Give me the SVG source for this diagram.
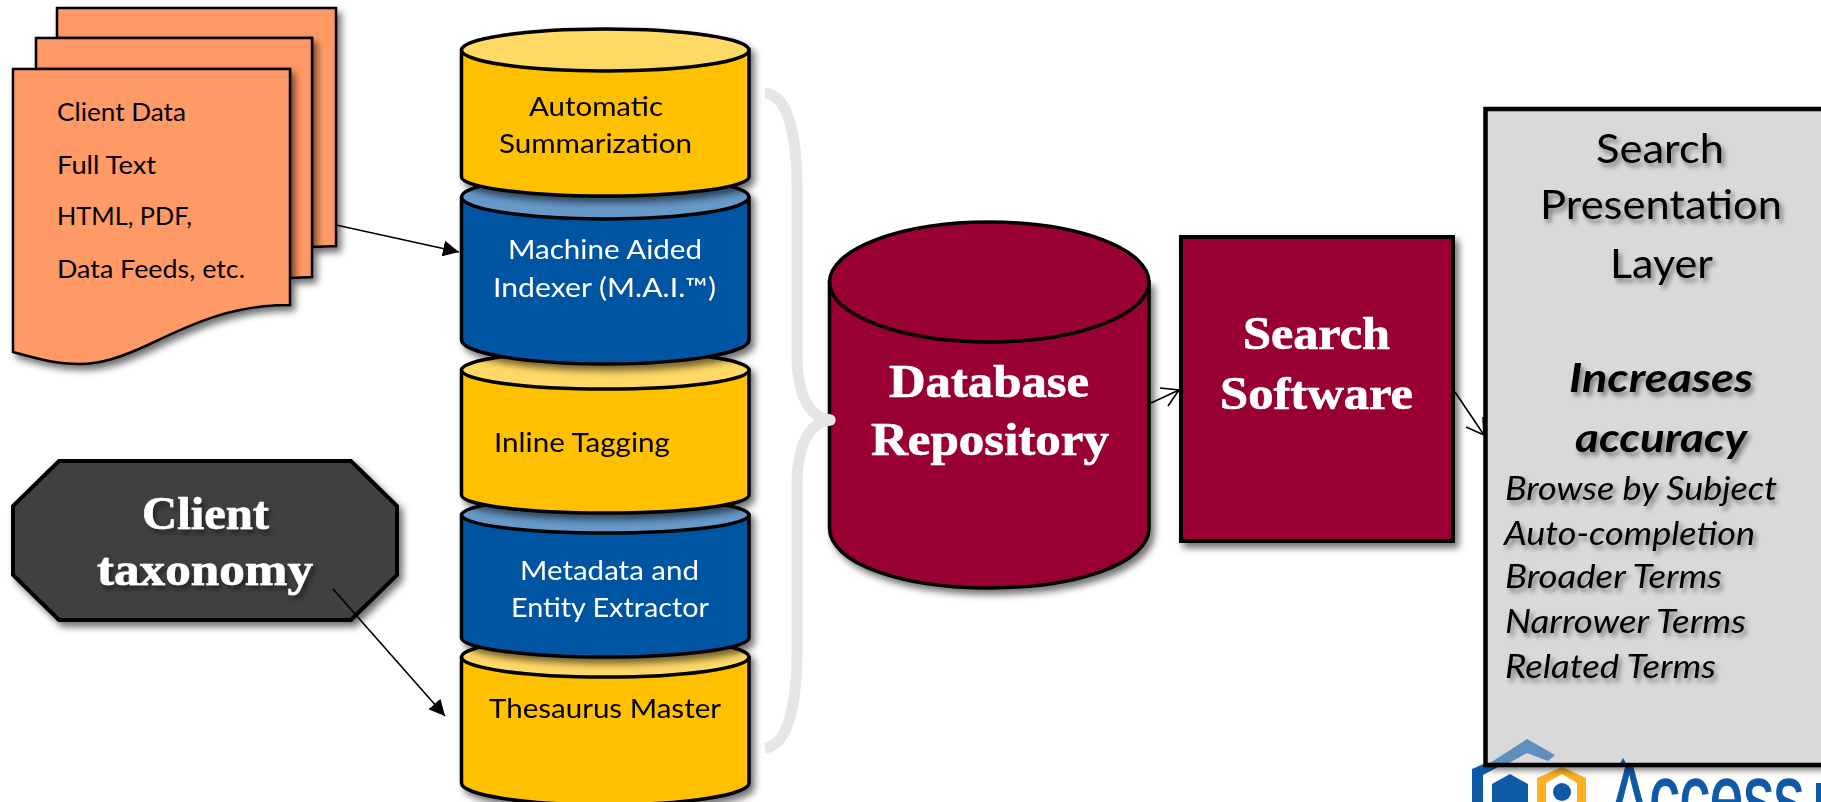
<svg xmlns="http://www.w3.org/2000/svg" width="1821" height="802" viewBox="0 0 1821 802">
<style>
text{font-family:"Lato","Open Sans",sans-serif;}
.body{font-size:26.5px;fill:#000;}
.w{fill:#fff;}
.doc{font-size:25px;fill:#000;}
.ser{font-family:"Liberation Serif","DejaVu Serif",serif;font-weight:bold;font-size:47px;fill:#fff;stroke:#fff;stroke-width:.7px;}
.hd{font-size:41px;fill:#000;filter:url(#ts);}
.em{font-size:41px;font-weight:bold;font-style:italic;fill:#000;filter:url(#ts);}
.li{font-size:32px;font-style:italic;fill:#000;filter:url(#ts);}
.sh{stroke:#000;stroke-width:3.5;stroke-linejoin:round;}
.yc{fill:#ffc000;}.yt{fill:#ffd966;}.bc{fill:#0054a3;}.bt{fill:#6699c9;}.mr{fill:#990033;}
.or{fill:#ff9966;stroke:#000;stroke-width:2.5;filter:url(#ds);}
.cn{fill:none;stroke:#000;stroke-width:1.6;}
.lb{fill:#0e5aa7;}
</style>
<defs>
<filter id="ds" x="-15%" y="-15%" width="135%" height="135%"><feDropShadow dx="4" dy="5" stdDeviation="3.5" flood-color="#000" flood-opacity=".55"/></filter>
<filter id="ts" x="-15%" y="-25%" width="130%" height="160%"><feDropShadow dx="3" dy="4" stdDeviation="2.5" flood-color="#000" flood-opacity=".45"/></filter>
<marker id="af" markerUnits="userSpaceOnUse" markerWidth="18" markerHeight="16" refX="16" refY="8" orient="auto"><path d="M0 0L16 8L0 16Z" fill="#000"/></marker>
</defs>

<g id="doc-back"><path class="or" d="M57 8H336V246L312 247V38H57Z"/></g>
<g id="doc-middle"><path class="or" d="M36 38H312V277L290 278V69H36Z"/></g>
<g id="doc-front">
<path class="or" d="M13 69H290V305C230 305 190 325 150 344C120 358 100 364 80 364C55 364 35 358 13 352Z"/>
<text class="doc" x="57" y="121" textLength="129" lengthAdjust="spacingAndGlyphs">Client Data</text>
<text class="doc" x="57" y="174" textLength="99" lengthAdjust="spacingAndGlyphs">Full Text</text>
<text class="doc" x="57" y="225" textLength="135" lengthAdjust="spacingAndGlyphs">HTML, PDF,</text>
<text class="doc" x="57" y="278" textLength="188" lengthAdjust="spacingAndGlyphs">Data Feeds, etc.</text>
</g>

<g id="taxonomy">
<path d="M59 461H351L397 506V575L351 620H59L13 575V506Z" fill="#404040" stroke="#000" stroke-width="4" filter="url(#ds)"/>
<g filter="url(#ts)">
<text class="ser" x="142" y="529" textLength="127" lengthAdjust="spacingAndGlyphs">Client</text>
<text class="ser" x="97" y="585" textLength="216" lengthAdjust="spacingAndGlyphs">taxonomy</text>
</g>
</g>

<g id="thesaurus-master" filter="url(#ds)">
<path class="sh yc" d="M461.500 657V783C461.500 795 525 805 605 805C685 805 749 795 749 783V657Z"/>
<ellipse class="sh yt" cx="605.250" cy="657" rx="143.750" ry="20"/>
<text class="body" x="489" y="718" textLength="232" lengthAdjust="spacingAndGlyphs">Thesaurus Master</text>
</g>
<g id="metadata-extractor" filter="url(#ds)">
<path class="sh bc" d="M461.500 515V638C461.500 648 525 657 605 657C685 657 749 648 749 638V515Z"/>
<ellipse class="sh bt" cx="605.250" cy="515" rx="143.750" ry="18"/>
<text class="body w" x="520" y="580" textLength="179" lengthAdjust="spacingAndGlyphs">Metadata and</text>
<text class="body w" x="511" y="617" textLength="198" lengthAdjust="spacingAndGlyphs">Entity Extractor</text>
</g>
<g id="inline-tagging" filter="url(#ds)">
<path class="sh yc" d="M461.500 370V495C461.500 505 525 513 605 513C685 513 749 505 749 495V370Z"/>
<ellipse class="sh yt" cx="605.250" cy="370" rx="143.750" ry="19"/>
<text class="body" x="494" y="452" textLength="176" lengthAdjust="spacingAndGlyphs">Inline Tagging</text>
</g>
<g id="machine-aided-indexer" filter="url(#ds)">
<path class="sh bc" d="M461.500 197V340C461.500 353 525 364 605 364C685 364 749 353 749 340V197Z"/>
<ellipse class="sh bt" cx="605.250" cy="197" rx="143.750" ry="22"/>
<text class="body w" x="508" y="259" textLength="194" lengthAdjust="spacingAndGlyphs">Machine Aided</text>
<text class="body w" x="493" y="297" textLength="223" lengthAdjust="spacingAndGlyphs">Indexer (M.A.I.™)</text>
</g>
<g id="automatic-summarization" filter="url(#ds)">
<path class="sh yc" d="M461.500 50V177C461.500 187 525 196 605 196C685 196 749 187 749 177V50Z"/>
<ellipse class="sh yt" cx="605.250" cy="50" rx="143.750" ry="21"/>
<text class="body" x="529" y="116" textLength="134" lengthAdjust="spacingAndGlyphs">Automatic</text>
<text class="body" x="499" y="153" textLength="193" lengthAdjust="spacingAndGlyphs">Summarization</text>
</g>

<g id="database-repository">
<path class="mr" d="M829.500 282V528C829.500 563 901 588 989 588C1078 588 1149 563 1149 528V282Z" stroke="#000" stroke-width="3.500" filter="url(#ds)"/>
<ellipse class="mr" cx="989.250" cy="282" rx="159.750" ry="60" stroke="#000" stroke-width="3.500"/>
<text class="ser" x="889" y="397" textLength="200" lengthAdjust="spacingAndGlyphs">Database</text>
<text class="ser" x="871" y="455" textLength="238" lengthAdjust="spacingAndGlyphs">Repository</text>
</g>

<g id="brace"><path d="M765 93C785 95 797 125 797 190V355C797 395 810 418 830 420C810 422 797 445 797 485V650C797 715 785 745 765 748" fill="none" stroke="#e6e6e6" stroke-width="11" stroke-linejoin="round"/><circle cx="830" cy="420" r="5.500" fill="#e6e6e6"/></g>

<g id="search-software">
<rect class="mr" x="1181" y="237" width="272" height="304" stroke="#000" stroke-width="4" filter="url(#ds)"/>
<text class="ser" x="1243" y="349" textLength="147" lengthAdjust="spacingAndGlyphs">Search</text>
<text class="ser" x="1220" y="409" textLength="193" lengthAdjust="spacingAndGlyphs">Software</text>
</g>

<g id="logo">
<path class="lb" d="M1472 802V769L1490 761L1500 766L1483 775V802Z"/>
<path class="lb" d="M1510 774L1528 784V802H1492V784Z"/>
<path d="M1562 767L1586 778V802H1537V778Z" fill="#fdb022"/>
<path d="M1562 774L1577 783V802H1546V783Z" fill="#fff"/>
<circle class="lb" cx="1562" cy="792" r="9"/>
<text class="lb" x="1609" y="828" font-size="90" textLength="195" lengthAdjust="spacingAndGlyphs" stroke="#0e5aa7" stroke-width="1.500" style="font-family:'Liberation Sans',sans-serif">Access</text>
<rect class="lb" x="1816" y="783" width="5" height="19"/>
</g>

<g id="search-presentation-layer">
<rect x="1485.500" y="109" width="345" height="656" fill="#d9d9d9" filter="url(#ds)"/>
<path d="M1490 763L1527 739L1555 755L1548 761L1527 753L1502 767Z" fill="#5f8fbf"/>
<path d="M1623 758L1628 767H1618Z" fill="#0e5aa7"/>
<rect x="1485.500" y="109" width="345" height="656" fill="none" stroke="#000" stroke-width="4.500"/>
<text class="hd" x="1596" y="163" textLength="128" lengthAdjust="spacingAndGlyphs">Search</text>
<text class="hd" x="1540" y="219" textLength="242" lengthAdjust="spacingAndGlyphs">Presentation</text>
<text class="hd" x="1610" y="278" textLength="103" lengthAdjust="spacingAndGlyphs">Layer</text>
<text class="em" x="1569" y="392" textLength="184" lengthAdjust="spacingAndGlyphs">Increases</text>
<text class="em" x="1575" y="452" textLength="172" lengthAdjust="spacingAndGlyphs">accuracy</text>
<text class="li" x="1505" y="500" textLength="272" lengthAdjust="spacingAndGlyphs">Browse by Subject</text>
<text class="li" x="1504" y="545" textLength="251" lengthAdjust="spacingAndGlyphs">Auto-completion</text>
<text class="li" x="1505" y="588" textLength="217" lengthAdjust="spacingAndGlyphs">Broader Terms</text>
<text class="li" x="1505" y="633" textLength="241" lengthAdjust="spacingAndGlyphs">Narrower Terms</text>
<text class="li" x="1505" y="678" textLength="211" lengthAdjust="spacingAndGlyphs">Related Terms</text>
</g>

<g id="connectors">
<path class="cn" d="M336 225L459 252" marker-end="url(#af)"/>
<path class="cn" d="M333 589L445 716" marker-end="url(#af)"/>
<path class="cn" d="M1151 403L1179 390M1160 388L1179 390L1168 406"/>
<path class="cn" d="M1455 392L1484 435M1466 427L1484 435L1483 417"/>
</g>
</svg>
